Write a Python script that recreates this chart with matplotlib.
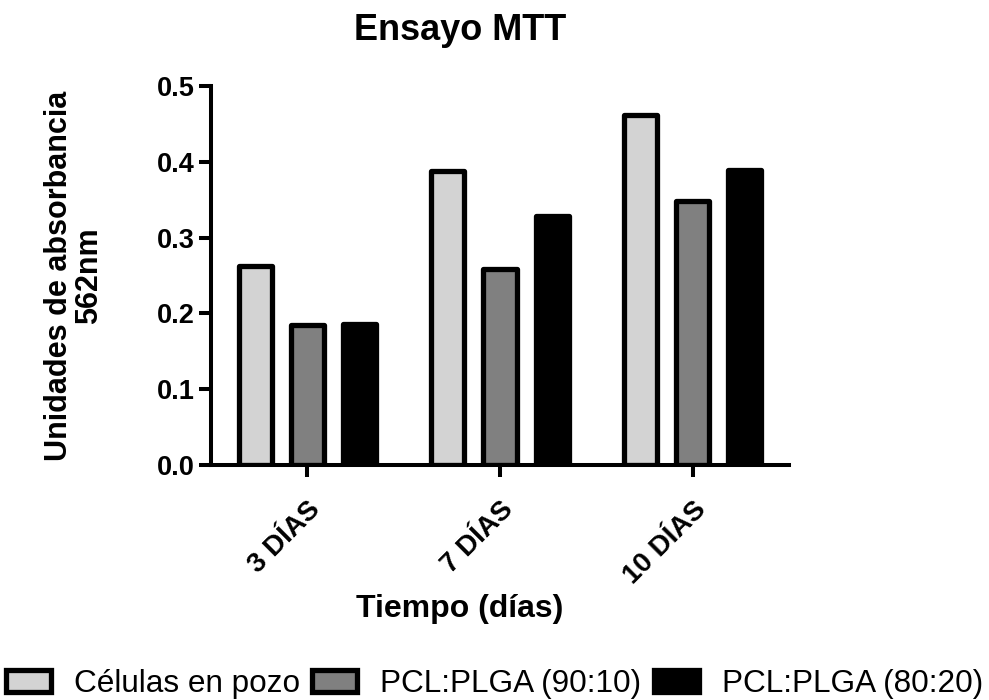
import matplotlib
matplotlib.use("Agg")
import matplotlib.pyplot as plt
import numpy as np

plt.rcParams['font.family'] = ['Liberation Sans', 'DejaVu Sans']

categories = ["3 DÍAS", "7 DÍAS", "10 DÍAS"]
series_names = ["Células en pozo", "PCL:PLGA (90:10)", "PCL:PLGA (80:20)"]
celulas = [0.263, 0.388, 0.462]
pcl_90_10 = [0.185, 0.259, 0.349]
pcl_80_20 = [0.186, 0.329, 0.389]
y_ticks = [0.0, 0.1, 0.2, 0.3, 0.4, 0.5]
colors = ["#D3D3D3", "#808080", "#000000"]

fig = plt.figure(figsize=(9.89, 7.0), dpi=100)
ax = fig.add_axes([0.2133, 0.3357, 0.5845, 0.5413])

x = np.arange(len(categories))
offsets = [-0.271, 0.0, 0.271]
width = 0.172
handles = []
for vals, off, col, name in zip([celulas, pcl_90_10, pcl_80_20], offsets, colors, series_names):
    b = ax.bar(x + off, vals, width, color=col, edgecolor="black", linewidth=3.8,
               label=name, joinstyle="round")
    handles.append(b)

ax.set_xlim(-0.5, 2.5)
ax.set_ylim(0, 0.5)
ax.set_yticks(y_ticks)
ax.set_yticklabels([f"{v:.1f}" for v in y_ticks], fontsize=19.5, fontweight="bold")
ax.set_xticks(x)
ax.set_xticklabels(categories, fontsize=20, fontweight="bold", rotation=45,
                   ha="right", rotation_mode="anchor")
for s in ["top", "right"]:
    ax.spines[s].set_visible(False)
for s in ["left", "bottom"]:
    ax.spines[s].set_linewidth(2.9)
ax.tick_params(axis="both", width=2.9, length=8.5, direction="out")
ax.tick_params(axis="x", pad=14)
ax.tick_params(axis="y", pad=3)

ax.set_ylabel("Unidades de absorbancia\n562nm", fontsize=22, fontweight="bold",
              linespacing=1.0)
ax.yaxis.set_label_coords(-0.185, 0.5)
ax.set_xlabel("Tiempo (días)", fontsize=23, fontweight="bold")
ax.xaxis.label.set_va("baseline")
ax.xaxis.set_label_coords(0.431, -0.401)
ax.set_title("Ensayo MTT", fontsize=26, fontweight="bold", pad=33, x=0.431)

fig.legend(handles=handles, labels=series_names, loc="lower center",
           bbox_to_anchor=(0.5, -0.03), ncol=3, frameon=False, fontsize=22.7,
           handlelength=1.43, handleheight=0.7, handletextpad=0.73,
           columnspacing=0.38, borderpad=0.2)

fig.savefig("out.png", dpi=100)
